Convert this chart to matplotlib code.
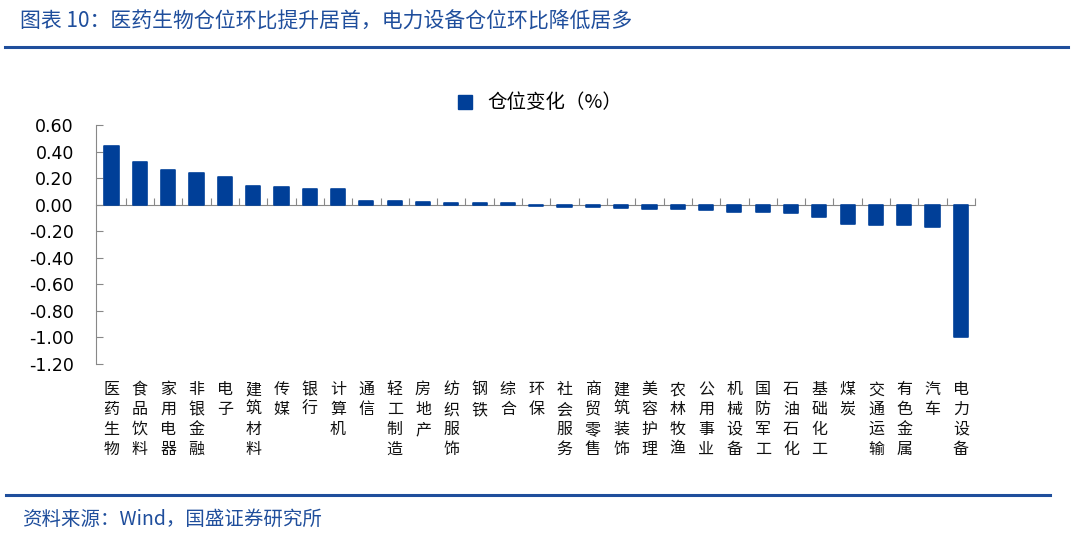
import numpy as np
import matplotlib.pyplot as plt
from matplotlib.lines import Line2D

plt.rcParams['font.family'] = ['Noto Sans CJK SC', 'DejaVu Sans']

# Data
industries = ['医药生物', '食品饮料', '家用电器', '非银金融', '电子', '建筑材料', '传媒', '银行',
              '计算机', '通信', '轻工制造', '房地产', '纺织服饰', '钢铁', '综合', '环保',
              '社会服务', '商贸零售', '建筑装饰', '美容护理', '农林牧渔', '公用事业', '机械设备',
              '国防军工', '石油石化', '基础化工', '煤炭', '交通运输', '有色金属', '汽车', '电力设备']
change = [0.44, 0.32, 0.26, 0.24, 0.21, 0.14, 0.13, 0.12,
          0.115, 0.03, 0.025, 0.02, 0.015, 0.015, 0.01, -0.01,
          -0.02, -0.02, -0.025, -0.03, -0.03, -0.04, -0.055,
          -0.055, -0.065, -0.09, -0.145, -0.15, -0.15, -0.17, -1.00]
yticks = [0.6, 0.4, 0.2, 0.0, -0.2, -0.4, -0.6, -0.8, -1.0, -1.2]

bar_color = '#003f98'
blue = '#1f4e9c'

fig = plt.figure(figsize=(10.8, 5.42), dpi=100)
ax = fig.add_axes([96 / 1080, 1 - 364 / 542, (975 - 96) / 1080, (364 - 125) / 542])

x = np.arange(len(industries))
# thin edge in the same colour so near-zero bars still show, like the original
ax.bar(x, change, width=0.5, color=bar_color, edgecolor=bar_color, linewidth=1.2,
       joinstyle='round', zorder=3)

ax.set_xlim(-0.55, len(industries) - 0.5)
ax.set_ylim(-1.2, 0.6)
ax.set_yticks(yticks)
ax.set_yticklabels([f'{v:.2f}' for v in yticks], fontsize=12.5, family='DejaVu Sans')
ax.tick_params(axis='y', direction='in', length=5, color='#888888', pad=16)

# x axis sits on zero line, ticks between bars
ax.spines['bottom'].set_position(('data', 0))
ax.spines['top'].set_visible(False)
ax.spines['right'].set_visible(False)
ax.spines['bottom'].set_color('#888888')
ax.spines['left'].set_color('#888888')
ax.set_xticks(np.arange(len(industries)) + 0.5)
ax.set_xticklabels([])
ax.tick_params(axis='x', direction='in', length=5, color='#888888')

# vertical category labels under the plot
for i, name in enumerate(industries):
    ax.text(i, -0.072, '\n'.join(name), transform=ax.get_xaxis_transform(),
            ha='center', va='top', fontsize=11.5, linespacing=1.22, color='#111111')

# legend
handle = Line2D([], [], marker='s', linestyle='none', markersize=10, color=bar_color)
fig.legend([handle], ['仓位变化（%）'], loc='center', bbox_to_anchor=(0.494, 0.81),
           frameon=False, fontsize=14, handletextpad=0.15, borderpad=0)

# title, rules and source
fig.text(20 / 1080, 1 - 22 / 542, '图表 10：医药生物仓位环比提升居首，电力设备仓位环比降低居多',
         ha='left', va='center', fontsize=15, color=blue)
fig.add_artist(Line2D([5 / 1080, 1068 / 1080], [1 - 47 / 542] * 2, color=blue, linewidth=2.2))
fig.add_artist(Line2D([6 / 1080, 1050 / 1080], [1 - 495 / 542] * 2, color=blue, linewidth=2.2))
fig.text(22 / 1080, 1 - 519 / 542, '资料来源：Wind，国盛证券研究所', ha='left', va='center',
         fontsize=14, color=blue)

fig.savefig('out.png', dpi=100)
